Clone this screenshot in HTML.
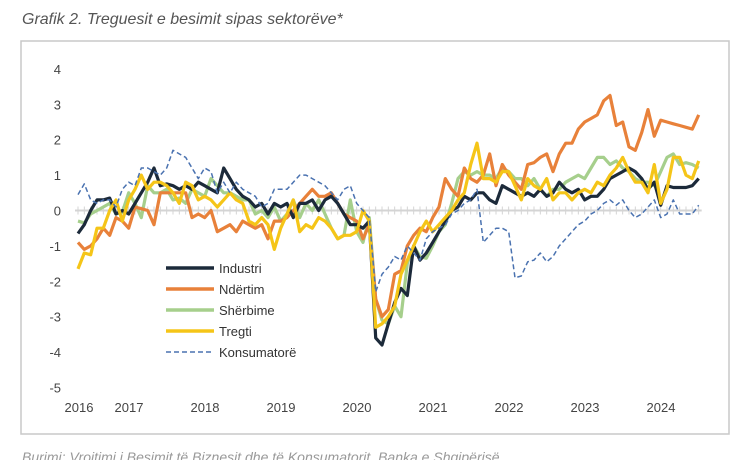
<!DOCTYPE html>
<html><head><meta charset="utf-8"><style>
body{margin:0;background:#fff;width:741px;height:460px;overflow:hidden;font-family:"Liberation Sans",sans-serif}
</style></head><body>
<svg id="chart" width="741" height="460" xmlns="http://www.w3.org/2000/svg">
<text x="22" y="24" font-size="16" font-style="italic" fill="#555">Grafik 2. Treguesit e besimit sipas sektorëve*</text>
<rect x="21" y="41" width="708" height="393" fill="none" stroke="#c8c8c8" stroke-width="1.5"/>
<text x="22" y="462" font-size="14" font-style="italic" fill="#999">Burimi: Vrojtimi i Besimit të Biznesit dhe të Konsumatorit, Banka e Shqipërisë</text>
<g id="axes"></g><g id="series"></g><g id="legend"></g>
</svg>
<script>
const yTicks=[4,3,2,1,0,-1,-2,-3,-4,-5];
const yearLabels=["2016","2017","2018","2019","2020","2021","2022","2023","2024"];
const industri=[-0.65,-0.4,0.0,0.3,0.3,0.35,-0.1,0.0,
-0.1,0.2,0.5,0.8,1.2,0.7,0.75,0.7,0.6,0.7,0.6,0.8,
0.7,0.6,0.5,1.2,0.9,0.6,0.4,0.3,0.1,0.2,-0.1,0.2,
0.1,0.2,-0.2,0.2,0.2,0.3,0.0,0.3,0.4,0.2,-0.1,-0.4,
-0.4,-0.5,-0.3,-3.6,-3.8,-3.2,-2.6,-2.2,-2.4,-1.0,-1.4,-1.2,
-0.9,-0.6,-0.3,0.0,0.1,0.4,0.3,0.5,0.5,0.3,0.2,0.7,
0.6,0.5,0.4,0.5,0.4,0.6,0.4,0.5,0.8,0.6,0.5,0.6,
0.3,0.4,0.4,0.6,0.9,1.0,1.1,1.2,1.1,0.9,0.6,0.8,
0.15,0.7,0.65,0.65,0.65,0.7,0.9];
const ndertim=[-0.9,-1.1,-1.0,-0.8,-0.5,-0.7,-0.2,-0.3,
-0.5,0.1,0.05,0.0,-0.4,0.5,0.5,0.5,0.5,0.5,-0.2,-0.1,
-0.2,0.0,-0.6,-0.5,-0.4,-0.6,-0.3,-0.4,-0.5,-0.4,-0.8,-0.3,
-0.3,-0.2,0.0,0.2,0.4,0.6,0.4,0.4,0.5,0.2,-0.1,-0.2,
-0.3,-0.8,-0.4,-2.5,-3.0,-2.8,-1.8,-1.7,-1.0,-0.7,-0.5,-0.6,
-0.2,0.1,0.9,0.6,0.4,1.2,0.9,0.8,1.0,1.6,0.7,1.3,
1.0,0.8,0.6,1.3,1.35,1.5,1.6,1.1,1.6,1.9,1.9,2.3,
2.5,2.6,2.7,3.1,3.25,2.4,2.5,1.8,1.7,2.2,2.85,2.1,
2.55,2.5,2.45,2.4,2.35,2.3,2.7];
const sherbime=[-0.3,-0.35,-0.1,0.0,0.1,0.2,-0.1,-0.05,
0.5,0.2,-0.2,0.7,0.5,0.5,0.6,0.3,0.35,0.2,0.6,0.5,
0.4,0.9,0.7,0.5,0.5,0.4,0.3,0.3,-0.1,0.0,-0.2,0.1,
-0.3,-0.1,0.3,-0.2,0.2,0.0,0.3,-0.1,-0.5,-0.8,-0.7,0.3,
-0.6,-0.9,-0.2,-2.5,-3.1,-3.2,-2.7,-3.0,-1.5,-1.0,-1.3,-1.35,
-1.0,-0.6,-0.4,0.2,0.9,1.1,1.0,1.1,1.0,1.0,0.9,1.2,
1.1,0.9,0.9,0.7,0.9,0.6,0.4,0.6,0.6,0.8,0.9,1.0,
0.9,1.2,1.5,1.5,1.3,1.4,1.2,1.1,0.9,0.8,0.8,0.7,
1.1,1.5,1.6,1.3,1.35,1.3,1.2];
const tregti=[-1.65,-1.2,-1.25,-0.5,-0.5,0.0,0.3,-0.3,
0.3,0.6,1.0,0.6,0.8,0.8,0.7,0.5,0.2,0.8,0.7,0.3,
0.4,0.3,0.1,0.3,0.5,0.3,0.2,-0.3,-0.4,-0.2,-0.4,-1.1,
-0.5,-0.1,0.3,-0.6,-0.4,-0.5,-0.2,-0.3,-0.5,-0.8,-0.7,-0.7,
-0.6,0.0,-0.3,-3.3,-3.2,-3.0,-2.7,-1.8,-1.4,-1.0,-0.6,-0.3,
-0.6,-0.4,-0.2,0.0,0.3,0.5,1.3,1.9,0.9,0.9,0.8,1.1,
1.1,0.7,0.3,0.9,0.7,0.6,0.9,0.3,0.5,0.5,0.3,0.5,
0.6,0.5,0.8,0.7,1.0,1.2,1.5,1.1,0.8,0.8,0.5,1.3,
0.2,0.6,1.5,1.5,1.0,0.9,1.4];
const konsumatore=[0.45,0.75,0.3,0.2,0.3,0.3,0.1,0.6,
0.8,0.7,1.2,1.2,1.1,1.0,1.2,1.7,1.6,1.5,1.2,0.9,
1.2,1.1,0.5,0.8,0.5,0.8,0.6,0.5,0.4,0.1,0.2,0.6,
0.6,0.6,0.8,1.0,1.0,0.9,0.8,0.7,0.5,0.3,0.6,0.7,
0.2,0.0,-0.2,-2.3,-1.8,-1.6,-1.3,-1.4,-1.0,-1.2,-1.4,-0.8,
-0.6,-0.5,-0.4,-0.1,0.0,0.2,0.3,0.6,-0.9,-0.7,-0.5,-0.5,
-0.6,-1.9,-1.85,-1.45,-1.4,-1.2,-1.45,-1.3,-1.0,-0.8,-0.6,-0.4,
-0.3,-0.1,0.0,0.2,0.3,0.15,0.3,0.0,-0.2,-0.1,0.1,0.3,
-0.2,-0.1,0.3,-0.1,-0.1,-0.1,0.15];
const seriesNames=["Industri","Ndërtim","Shërbime","Tregti","Konsumatorë"];

const NS="http://www.w3.org/2000/svg";
const y=v=>210.5-35.4*v;
const x=i=>78+i*(76/12);           // i = months since May 2016
const yearX=k=>k===0?79:129+(k-1)*76;
const axes=document.getElementById('axes');
function mk(tag,attrs,parent){const e=document.createElementNS(NS,tag);for(const k in attrs)e.setAttribute(k,attrs[k]);parent.appendChild(e);return e;}
yTicks.forEach(v=>{const t=mk('text',{x:61,y:y(v)+5,'font-size':13,fill:'#444','text-anchor':'end'},axes);t.textContent=v;

});
yearLabels.forEach((l,k)=>{const t=mk('text',{x:yearX(k),y:412,'font-size':13,fill:'#444','text-anchor':'middle'},axes);t.textContent=l;

});
const n=industri.length;
const zl=mk('line',{x1:x(0)-3,x2:x(n-1)+3,y1:y(0),y2:y(0),stroke:'#d4d4d4','stroke-width':2},axes);


for(let i=0;i<n;i++){const tk=mk('line',{x1:x(i),x2:x(i),y1:y(0)-4,y2:y(0)+4,stroke:'#d4d4d4','stroke-width':1},axes);

}
const ser=document.getElementById('series');
const data=[industri,ndertim,sherbime,tregti,konsumatore];
const colors=['#1c2a3a','#e8813a','#a6cf8c','#f5c518','#4a72b0'];
const widths=[3.2,3.2,3.2,3.2,1.5];
const order=[2,1,0,3,4];
order.forEach(s=>{const arr=data[s];const d=arr.map((v,i)=>(i?'L':'M')+x(i).toFixed(1)+' '+y(v).toFixed(1)).join(' ');
const p=mk('path',{d:d,fill:'none',stroke:colors[s],'stroke-width':widths[s],'stroke-linejoin':'round'},ser);
if(s===4)p.setAttribute('stroke-dasharray','5 3');

});
const lg=document.getElementById('legend');
seriesNames.forEach((nm,s)=>{const yy=268+s*21;
const l=mk('line',{x1:166,x2:214,y1:yy,y2:yy,stroke:colors[s],'stroke-width':s===4?1.5:3.5},lg);
if(s===4)l.setAttribute('stroke-dasharray','5 3');


const t=mk('text',{x:219,y:yy+5,'font-size':13,fill:'#333'},lg);t.textContent=nm;

});
</script>
</body></html>
